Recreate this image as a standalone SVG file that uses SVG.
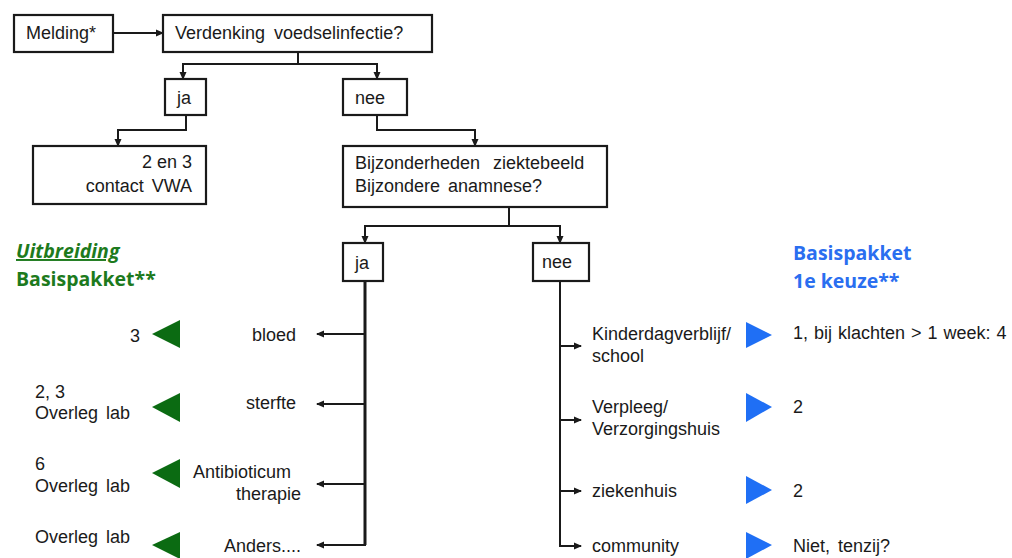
<svg xmlns="http://www.w3.org/2000/svg" width="1012" height="558" viewBox="0 0 1012 558">
<defs>
<style>
.box{fill:#fff;stroke:#1a1a1a;stroke-width:2.2}
.t{font-family:"Liberation Sans",Arial,sans-serif;font-size:18px;fill:#1a1a1a}
.r{text-anchor:end}
.c{fill:none;stroke:#1a1a1a;stroke-width:2}
.thick{stroke-width:3}
.g{fill:#0b6b12}
.b{fill:#1f6ff5}
.gt{font-family:"Open Sans",Lato,sans-serif;font-weight:bold;font-size:19.5px;fill:#1d7a1d}
.bt{font-family:"Open Sans",Lato,sans-serif;font-weight:bold;font-size:19.5px;fill:#2a6ef0}
</style>
<marker id="ah" markerUnits="userSpaceOnUse" markerWidth="8" markerHeight="8" refX="7" refY="4" orient="auto">
<path d="M0,0.5 L8,4 L0,7.5 z" fill="#1a1a1a"/>
</marker>
</defs>
<rect width="1012" height="558" fill="#fff"/>

<g id="connectors">
<path class="c" d="M113,33 H163" marker-end="url(#ah)"/>
<path class="c" d="M298,52 V64 H183 V79" marker-end="url(#ah)"/>
<path class="c" d="M298,64 H377 V79" marker-end="url(#ah)"/>
<path class="c" d="M186,115 V130 H118 V146" marker-end="url(#ah)"/>
<path class="c" d="M377,115 V130 H475 V146" marker-end="url(#ah)"/>
<path class="c" d="M509,207 V226 H365 V243" marker-end="url(#ah)"/>
<path class="c" d="M509,226 H560 V243" marker-end="url(#ah)"/>
<path class="c thick" d="M365,281 V545"/>
<path class="c" d="M365,334 H317" marker-end="url(#ah)"/>
<path class="c" d="M365,404 H317" marker-end="url(#ah)"/>
<path class="c" d="M365,484 H317" marker-end="url(#ah)"/>
<path class="c" d="M366,545 H317" marker-end="url(#ah)"/>
<path class="c" d="M560,281 V546 H581" marker-end="url(#ah)"/>
<path class="c" d="M560,346 H581" marker-end="url(#ah)"/>
<path class="c" d="M560,420 H581" marker-end="url(#ah)"/>
<path class="c" d="M560,491 H581" marker-end="url(#ah)"/>
</g>

<g id="melding">
<rect class="box" x="14" y="15" width="99" height="37"/>
<text class="t" x="26" y="39">Melding*</text>
</g>
<g id="verdenking">
<rect class="box" x="163" y="15" width="269" height="37"/>
<text class="t" x="175" y="39" word-spacing="4">Verdenking voedselinfectie?</text>
</g>
<g id="ja1">
<rect class="box" x="165" y="79" width="41" height="36"/>
<text class="t" x="177" y="104">ja</text>
</g>
<g id="nee1">
<rect class="box" x="343" y="79" width="64" height="36"/>
<text class="t" x="355" y="104">nee</text>
</g>
<g id="contact-vwa">
<rect class="box" x="33" y="146" width="173" height="58"/>
<text class="t r" x="192" y="168">2 en 3</text>
<text class="t r" x="192" y="192" word-spacing="3">contact VWA</text>
</g>
<g id="bijzonderheden">
<rect class="box" x="343" y="146" width="264" height="61"/>
<text class="t" x="355" y="169" word-spacing="8">Bijzonderheden ziektebeeld</text>
<text class="t" x="355" y="192" word-spacing="3">Bijzondere anamnese?</text>
</g>
<g id="ja2">
<rect class="box" x="343" y="243" width="40" height="38"/>
<text class="t" x="355" y="269">ja</text>
</g>
<g id="nee2">
<rect class="box" x="533" y="243" width="56" height="38"/>
<text class="t" x="542" y="268">nee</text>
</g>

<g id="uitbreiding">
<text class="gt" x="16" y="258" font-style="italic" text-decoration="underline">Uitbreiding</text>
<text class="gt" x="16" y="286">Basispakket**</text>
</g>
<g id="basispakket">
<text class="bt" x="793" y="260">Basispakket</text>
<text class="bt" x="793" y="288">1e keuze**</text>
</g>

<g id="bloed">
<text class="t r" x="296" y="341">bloed</text>
<polygon class="g" points="152,334 180,320 180,348"/>
<text class="t r" x="140" y="342">3</text>
</g>
<g id="sterfte">
<text class="t r" x="296" y="409">sterfte</text>
<polygon class="g" points="152,407 180,393 180,422"/>
<text class="t" x="35" y="398">2, 3</text>
<text class="t" x="35" y="419" word-spacing="3">Overleg lab</text>
</g>
<g id="antibioticum">
<text class="t r" x="291" y="478">Antibioticum</text>
<text class="t r" x="301" y="500">therapie</text>
<polygon class="g" points="152,473 180,459 180,488"/>
<text class="t" x="35" y="470">6</text>
<text class="t" x="35" y="492" word-spacing="3">Overleg lab</text>
</g>
<g id="anders">
<text class="t r" x="301" y="552">Anders....</text>
<polygon class="g" points="152,545 180,532 180,559"/>
<text class="t" x="35" y="543" word-spacing="3">Overleg lab</text>
</g>

<g id="kinderdagverblijf">
<text class="t" x="592" y="340">Kinderdagverblijf/</text>
<text class="t" x="592" y="362">school</text>
<polygon class="b" points="746,322 772,335 746,348"/>
<text class="t" x="793" y="339" font-size="17" word-spacing="1">1, bij klachten &gt; 1 week: 4</text>
</g>
<g id="verpleeg">
<text class="t" x="592" y="413">Verpleeg/</text>
<text class="t" x="592" y="435">Verzorgingshuis</text>
<polygon class="b" points="746,393 772,407 746,422"/>
<text class="t" x="793" y="413">2</text>
</g>
<g id="ziekenhuis">
<text class="t" x="592" y="497">ziekenhuis</text>
<polygon class="b" points="746,476 772,490 746,504"/>
<text class="t" x="793" y="497">2</text>
</g>
<g id="community">
<text class="t" x="592" y="552">community</text>
<polygon class="b" points="746,532 772,545 746,559"/>
<text class="t" x="793" y="552" word-spacing="3">Niet, tenzij?</text>
</g>
</svg>
